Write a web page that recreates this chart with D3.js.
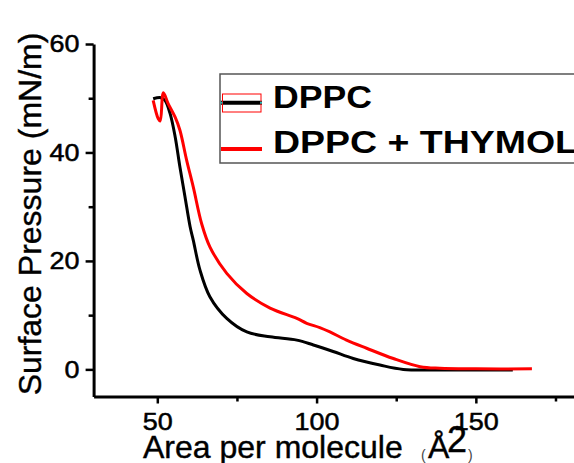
<!DOCTYPE html>
<html>
<head>
<meta charset="utf-8">
<script src="https://cdn.jsdelivr.net/npm/d3@7"></script>
<style>
  body { margin: 0; background: white; }
  svg text { font-family: "Liberation Sans", Arial, sans-serif; }
</style>
</head>
<body>
<div id="canvas"></div>
<script>
"use strict"

let drawingWidth = 574;
let drawingHeight = 463;

// isotherm: area (A^2 per molecule), pressure (mN/m)
let dppcArea = [48.7, 51.1, 52.4, 54.0, 55.6, 57.1, 58.7, 60.3, 61.3, 63.4, 66.5, 71.8, 78.1, 85.4, 93.8, 99.0, 105.2, 111.5, 119.9, 127.2, 138.7, 150.0, 161.6];
let dppcPressure = [49.9, 50.1, 49.6, 47.2, 42.9, 37.3, 31.8, 26.3, 23.8, 18.3, 13.4, 9.4, 6.9, 6.0, 5.4, 4.5, 3.3, 2.0, 0.8, 0.0, -0.1, -0.1, -0.1];

let thymolArea = [48.7, 50.3, 50.9, 51.9, 53.4, 55.6, 57.1, 59.2, 61.3, 63.9, 66.5, 71.8, 78.1, 85.4, 93.8, 96.9, 101.0, 104.2, 109.4, 115.7, 124.1, 132.5, 138.7, 150.0, 167.6];
let thymolPressure = [49.6, 46.2, 45.8, 51.0, 49.0, 46.5, 44.1, 38.6, 33.6, 26.9, 22.6, 17.7, 14.0, 11.3, 9.4, 8.5, 7.7, 6.9, 5.4, 3.9, 2.0, 0.5, 0.2, 0.1, 0.1];

let xTicks = [50, 100, 150];
let xMinorTicks = [75, 125, 175];
let yTicks = [0, 20, 40, 60];
let yMinorTicks = [10, 30, 50];

let seriesNames = ["DPPC", "DPPC + THYMOL"];
let seriesColors = ["black", "red"];

let drawing = d3.select("#canvas")
    .append("svg")
    .attr("width", drawingWidth)
    .attr("height", drawingHeight);

let x = d3.scaleLinear().domain([30, 181]).range([93.6, 574.6]);
let y = d3.scaleLinear().domain([-5, 60]).range([396.5, 44]);

/* minor ticks first so the main axes draw over them */
drawing.append("g")
    .attr("transform", "translate(" + x.range()[0] + ",0)")
    .call(d3.axisLeft(y).tickValues(yMinorTicks).tickSize(5).tickSizeOuter(0).tickFormat(""))
    .call(g => g.select(".domain").remove())
    .call(g => g.selectAll("line").attr("stroke-width", 2.5));

drawing.append("g")
    .attr("transform", "translate(0," + y.range()[0] + ")")
    .call(d3.axisBottom(x).tickValues(xMinorTicks).tickSize(5).tickSizeOuter(0).tickFormat(""))
    .call(g => g.select(".domain").remove())
    .call(g => g.selectAll("line").attr("stroke-width", 2.5));

let yAxis = drawing.append("g")
    .attr("transform", "translate(" + x.range()[0] + ",0)")
    .call(d3.axisLeft(y).tickValues(yTicks).tickSize(8).tickSizeOuter(0).tickPadding(6));

let xAxis = drawing.append("g")
    .attr("transform", "translate(0," + y.range()[0] + ")")
    .call(d3.axisBottom(x).tickValues(xTicks).tickSize(7).tickSizeOuter(0));

[yAxis, xAxis].forEach(function (ax) {
    ax.select(".domain").attr("stroke-width", 3).attr("stroke", "black");
    ax.selectAll(".tick line").attr("stroke-width", 2.5);
    ax.selectAll(".tick text")
        .attr("font-size", 24)
        .attr("fill", "black")
        .attr("stroke", "black")
        .attr("stroke-width", 0.5)
        .attr("font-family", "'Liberation Sans', Arial, sans-serif")
        .attr("lengthAdjust", "spacingAndGlyphs")
        .attr("textLength", d => String(d).length * 15);
});
xAxis.selectAll(".tick text").attr("y", 16.5);

/* curves */
let line = d3.line()
    .x(d => x(d[0]))
    .y(d => y(d[1]))
    .curve(d3.curveCatmullRom.alpha(0.5));

let dppcPoints = d3.zip(dppcArea, dppcPressure);
let thymolPoints = d3.zip(thymolArea, thymolPressure);

drawing.append("path")
    .datum(dppcPoints)
    .attr("d", line)
    .attr("fill", "none")
    .attr("stroke", seriesColors[0])
    .attr("stroke-width", 3)
    .attr("stroke-linejoin", "round");

drawing.append("path")
    .datum(thymolPoints)
    .attr("d", line)
    .attr("fill", "none")
    .attr("stroke", seriesColors[1])
    .attr("stroke-width", 3)
    .attr("stroke-linejoin", "round");

/* axis titles */
drawing.append("text")
    .attr("transform", "translate(41,214) rotate(-90)")
    .attr("text-anchor", "middle")
    .attr("font-size", 32)
    .attr("fill", "black")
    .attr("stroke", "black")
    .attr("stroke-width", 0.4)
    .text("Surface Pressure (mN/m)");

let xTitle = drawing.append("text")
    .attr("x", 143)
    .attr("y", 458)
    .attr("fill", "black")
    .attr("stroke", "black")
    .attr("stroke-width", 0.4);
xTitle.append("tspan").attr("font-size", 32).text("Area per molecule");
drawing.append("text").attr("x", 421).attr("y", 460).attr("font-size", 14).attr("fill", "#444").text("(");
drawing.append("text").attr("x", 428).attr("y", 458).attr("font-size", 32)
    .attr("stroke", "black").attr("stroke-width", 0.4).text("Å");
drawing.append("text").attr("x", 447).attr("y", 452).attr("font-size", 36)
    .attr("stroke", "black").attr("stroke-width", 0.4)
    .attr("lengthAdjust", "spacingAndGlyphs").attr("textLength", 20).text("2");
drawing.append("text").attr("x", 468).attr("y", 460).attr("font-size", 14).attr("fill", "#444").text(")");

/* legend */
drawing.append("rect")
    .attr("x", 220)
    .attr("y", 74)
    .attr("width", 400)
    .attr("height", 89)
    .attr("fill", "white")
    .attr("stroke", "#555")
    .attr("stroke-width", 1.5);

let legendRows = [102.7, 149];
let legendBaselines = [107.7, 152.7];
let legendLengths = [99, 305];

seriesNames.forEach(function (name, i) {
    drawing.append("line")
        .attr("x1", 221)
        .attr("x2", 262)
        .attr("y1", legendRows[i])
        .attr("y2", legendRows[i])
        .attr("stroke", seriesColors[i])
        .attr("stroke-width", 4);
    drawing.append("text")
        .attr("x", 273)
        .attr("y", legendBaselines[i])
        .attr("font-size", 32)
        .attr("font-weight", "bold")
        .attr("fill", "black")
        .attr("lengthAdjust", "spacingAndGlyphs")
        .attr("textLength", legendLengths[i])
        .text(name);
});

// selection box left around the first legend sample
drawing.append("rect")
    .attr("x", 222.5)
    .attr("y", 94)
    .attr("width", 38.5)
    .attr("height", 18)
    .attr("fill", "none")
    .attr("stroke", "red")
    .attr("stroke-width", 1);
[221.5, 261].forEach(function (cx) {
    drawing.append("rect")
        .attr("x", cx - 1)
        .attr("y", legendRows[0] - 1)
        .attr("width", 2)
        .attr("height", 2)
        .attr("fill", "#2bb");
});
</script>
</body>
</html>
